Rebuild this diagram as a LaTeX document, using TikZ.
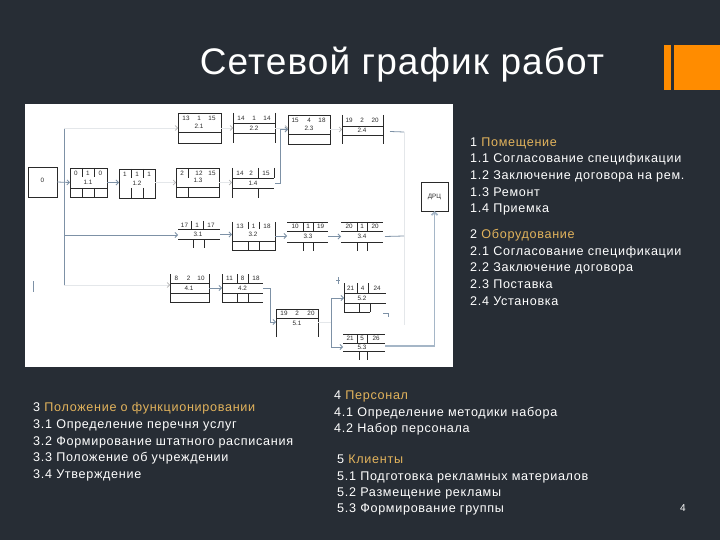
\documentclass[tikz,border=0pt]{standalone}
\usepackage{fontspec}
\setmainfont{Liberation Sans}
\newfontfamily\bodyfont[LetterSpace=5.5]{Liberation Sans}
\newfontfamily\titlefont[LetterSpace=3]{Liberation Sans}
\usetikzlibrary{arrows.meta,calc}
\definecolor{bg}{HTML}{272D35}
\definecolor{org}{HTML}{FF8C00}
\definecolor{gold}{HTML}{E2B35C}
\definecolor{conn}{HTML}{7D91A6}
\definecolor{faint}{HTML}{E4E7EA}
\definecolor{drc}{HTML}{A5B6C7}
\definecolor{ink}{HTML}{2A2A2A}
\newcounter{nn}
\newcommand\tnum[3]{\stepcounter{nn}\node[num] (n\arabic{nn}) at (#1,#2) {#3};}
\newcommand\trow[7]{\tnum{#2}{#1}{#3}\tnum{#4}{#1}{#5}\tnum{#6}{#1}{#7}}
\begin{document}
\begin{tikzpicture}[x=1pt,y=-1pt,
  box/.style={inner sep=0,outer sep=0,draw=none,anchor=north west},
  bl/.style={line width=0.7pt,ink},
  num/.style={font=\fontsize{6.3}{7}\selectfont,inner sep=0,text=ink},
  cn/.style={draw=conn,line width=0.8pt,-{Straight Barb[length=2.5pt,width=5pt]}},
  fc/.style={draw=faint,line width=0.6pt,-{Straight Barb[length=2.5pt,width=5pt,color=black!30]}},
  txt/.style={text=white,font=\bodyfont\fontsize{12.6}{15}\selectfont,anchor=base west,inner sep=0},
  gt/.style={text=gold}]
\useasboundingbox (0,0) rectangle (720,540);
\fill[bg] (0,0) rectangle (720,540);
% title and bars
\node[text=white,font=\titlefont\fontsize{37}{42}\selectfont,inner sep=0] (title) at (402,65) {Сетевой график работ};
\fill[org] (664,45) rectangle (671,90);
\fill[org] (674,45) rectangle (720,90);
% white panel
\fill[white] (25,104) rectangle (453,367);

% ---- boxes ----
% start
\node[box,minimum width=29,minimum height=30] (b0) at (28,167) {};
\draw[bl] (28,167) rectangle (57,197);
\node[num] (l0) at (42.5,180) {0};
% 1.1
\node[box,minimum width=37,minimum height=29] (b11) at (70,168) {};
\draw[bl] (70,168) rectangle (107,197) (82,168)--(82,177) (94,168)--(94,177)
  (70,188)--(107,188) (82,188)--(82,197) (94,188)--(94,197);
\trow{173}{76}{0}{88}{1}{100.5}{0}
\node[num] (l11) at (88,182.5) {1.1};
% 1.2
\node[box,minimum width=36,minimum height=29] (b12) at (119,169) {};
\draw[bl] (119,169) rectangle (155,198) (131,169)--(131,178) (143,169)--(143,178)
  (131,188)--(131,198) (143,188)--(143,198);
\trow{174}{125}{1}{137}{1}{149}{1}
\node[num] (l12) at (137,183.5) {1.2};
% 1.3
\node[box,minimum width=43,minimum height=29] (b13) at (176,168) {};
\draw[bl] (176,168) rectangle (219,197) (188,168)--(188,178)
  (176,187)--(219,187) (188,187)--(188,197);
\trow{173}{182}{2}{199}{12}{212}{15}
\node[num] (l13) at (198,180.5) {1.3};
% 1.4
\node[box,minimum width=42,minimum height=30] (b14) at (232,168) {};
\draw[bl] (232,168)--(232,198) (274,168)--(274,178) (258,168)--(258,178)
  (232,178)--(274,178) (232,188)--(274,188) (258,188)--(258,198);
\trow{173}{240}{14}{251}{2}{266}{15}
\node[num] (l14) at (253,183) {1.4};
% 2.1
\node[box,minimum width=43,minimum height=30] (b21) at (178,113) {};
\draw[bl] (178,113) rectangle (221,143) (178,132)--(221,132);
\trow{118}{186}{13}{199}{1}{212}{15}
\node[num] (l21) at (199,126.5) {2.1};
% 2.2
\node[box,minimum width=42,minimum height=30] (b22) at (233,113) {};
\draw[bl] (233,113)--(233,143) (275,113)--(275,143) (233,123)--(275,123) (233,133)--(275,133);
\trow{118}{241}{14}{254}{1}{267}{14}
\node[num] (l22) at (254,128) {2.2};
% 2.3
\node[box,minimum width=42,minimum height=29] (b23) at (288,115) {};
\draw[bl] (288,115) rectangle (330,144) (288,134)--(330,134);
\trow{120}{295}{15}{309}{4}{322}{18}
\node[num] (l23) at (309,128.5) {2.3};
% 2.4
\node[box,minimum width=41,minimum height=29] (b24) at (342,115) {};
\draw[bl] (342,115)--(342,144) (383,115)--(383,144) (342,126)--(383,126) (342,135)--(383,135);
\trow{120}{349}{19}{362}{2}{375}{20}
\node[num] (l24) at (362,130.5) {2.4};
% 3.1
\node[box,minimum width=42,minimum height=27] (b31) at (178,221) {};
\draw[bl] (191,221)--(191,229) (203,221)--(203,229) (178,229)--(220,229) (178,239)--(220,239)
  (193,239)--(193,248) (204,239)--(204,248);
\trow{225}{184.5}{17}{197}{1}{211}{17}
\node[num] (l31) at (198,234) {3.1};
% 3.2
\node[box,minimum width=43,minimum height=28] (b32) at (232,222) {};
\draw[bl] (232,222)--(232,250)--(275,250)--(275,222) (248,222)--(248,229) (259,222)--(259,229)
  (232,241)--(275,241) (248,241)--(248,250) (259,241)--(259,250);
\trow{226}{240}{13}{253.5}{1}{267}{18}
\node[num] (l32) at (253,234) {3.2};
% 3.3
\node[box,minimum width=41,minimum height=29] (b33) at (287,222) {};
\draw[bl] (287,222)--(328,222) (303,222)--(303,231) (313,222)--(313,231) (287,231)--(328,231)
  (287,242)--(328,242) (303,242)--(303,251) (313,242)--(313,251);
\trow{226.5}{295}{10}{308}{1}{320.5}{19}
\node[num] (l33) at (308,236.5) {3.3};
% 3.4
\node[box,minimum width=42,minimum height=29] (b34) at (341,222) {};
\draw[bl] (341,222)--(383,222) (357,222)--(357,231) (367,222)--(367,231) (341,231)--(383,231)
  (341,242)--(383,242) (357,242)--(357,251) (367,242)--(367,251);
\trow{226.5}{349}{20}{362}{1}{375}{20}
\node[num] (l34) at (362,236.5) {3.4};
% 4.1
\node[box,minimum width=39,minimum height=28] (b41) at (170,274) {};
\draw[bl] (170,274)--(170,302)--(209,302)--(209,274) (170,283)--(209,283) (170,293)--(209,293);
\trow{278}{176.5}{8}{188.5}{2}{201}{10}
\node[num] (l41) at (189,288) {4.1};
% 4.2
\node[box,minimum width=41,minimum height=28] (b42) at (222,274) {};
\draw[bl] (222,274)--(222,302)--(263,302) (237,274)--(237,283) (248,274)--(248,283)
  (222,283)--(263,283) (222,293)--(263,293) (237,293)--(237,302) (248,293)--(248,302);
\trow{278}{229.5}{11}{242.5}{8}{256}{18}
\node[num] (l42) at (242.5,288) {4.2};
% 5.1
\node[box,minimum width=42,minimum height=28] (b51) at (276,309) {};
\draw[bl] (276,337)--(276,309)--(318,309)--(318,337) (276,318)--(318,318);
\trow{313.5}{284}{19}{297}{2}{311}{20}
\node[num] (l51) at (297,323) {5.1};
% 5.2
\node[box,minimum width=42,minimum height=29] (b52) at (344,283) {};
\draw[bl] (344,283)--(344,312)--(370,312) (357,283)--(357,293) (368,283)--(368,293)
  (344,293)--(386,293) (344,303)--(386,303) (359,303)--(359,312) (370,303)--(370,312);
\trow{288}{350.5}{21}{362.5}{4}{377}{24}
\node[num] (l52) at (362,298) {5.2};
\draw[conn,line width=0.6pt] (383,313)--(388,313)--(388,317);
% 5.3
\node[box,minimum width=42,minimum height=26] (b53) at (343,334) {};
\draw[bl] (343,334)--(385,334) (357,334)--(357,343) (367,334)--(367,343) (343,343)--(385,343)
  (343,351)--(385,351) (359,351)--(359,360) (367,351)--(367,360);
\trow{338.5}{350}{21}{362}{5}{376}{26}
\node[num] (l53) at (362,347) {5.3};
% DRC
\node[box,draw=ink,line width=0.7pt,minimum width=27,minimum height=29] (drc) at (421,182) {};
\node[num] (ldrc) at (drc.center) {ДРЦ};

% ---- connectors ----
\coordinate (tTop) at (64,128);
\coordinate (tMid) at (64,235);
\coordinate (tBot) at (64,285);
\coordinate (rTop) at (404,132);
\coordinate (rMid) at (404,236);
\coordinate (rBot) at (404,325);
\coordinate (s5) at (331,322);
\coordinate (s5a) at (331,298);
\coordinate (s5b) at (331,347);
\draw[conn,line width=0.8pt] (tTop)--(tBot);
\draw[cn] (b0.east)--(b11.west);
\draw[fc] (tTop)--(b21.west|-tTop);
\draw[cn] (tMid)--(b31.west|-tMid);
\draw[fc] (tBot)--(b41.west|-tBot);
\draw[cn] (b11.east)--(b12.west|-b11.east);
\draw[fc] (b12.east|-b13.west)--(b13.west);
\draw[fc] (b13.east)--(b14.west|-b13.east);
\draw[fc] (b21.east)--(b22.west|-b21.east);
\draw[fc] (b22.east)--(b23.west|-b22.east);
\draw[cn] ($(b14.east)+(1,0)$)--++(5,0)|-(b23.west);
\draw[fc] (b23.east)--(b24.west|-b23.east);
\draw[conn,line width=0.8pt] ($(b24.east)+(7,2)$)--(rTop);
\draw[draw=faint,line width=0.8pt] (rTop)--(rBot);
\draw[cn] (b31.east)--(b32.west|-b31.east);
\draw[cn] (b32.east)--(b33.west|-b32.east);
\draw[cn] (b33.east)--(b34.west|-b33.east);
\draw[conn,line width=0.8pt] ($(b34.east)+(2,0)$)--(rMid);
\draw[cn] (b41.east)--(b42.west|-b41.east);
\draw[cn] (b42.east)--++(7,0)|-(b51.west|-s5);
\draw[draw=faint,line width=0.6pt] (b51.east|-s5)--(s5);
\draw[conn,line width=0.8pt] (s5a)--(s5b);
\draw[cn] (s5a)--(b52.west|-s5a);
\draw[cn] (s5b)--(b53.west|-s5b);
\draw[draw=drc,line width=1.6pt,-{Straight Barb[length=3pt,width=6pt]}] (b53.east|-346,346)-|(drc.south);
\draw[conn,line width=0.6pt] (33,281)--(33,292);
\draw[conn,line width=0.5pt] (338,277)--(338,284) (336,280)--(340,280);

% ---- texts ----
\node[txt] (a0) at (470,146.5) {1 \textcolor{gold}{Помещение}};
\node[txt] (a1) at (470,162.5) {1.1 Согласование спецификации};
\node[txt] (a2) at (470,179.5) {1.2 Заключение договора на рем.};
\node[txt] (a3) at (470,196.5) {1.3 Ремонт};
\node[txt] (a4) at (470,212.5) {1.4 Приемка};
\node[txt] (c0) at (470,238.5) {2 \textcolor{gold}{Оборудование}};
\node[txt] (c1) at (470,255.5) {2.1 Согласование спецификации};
\node[txt] (c2) at (470,271.5) {2.2 Заключение договора};
\node[txt] (c3) at (470,288.5) {2.3 Поставка};
\node[txt] (c4) at (470,305.5) {2.4 Установка};

\node[txt] (d0) at (33,411.5) {3 \textcolor{gold}{Положение о функционировании}};
\node[txt] (d1) at (33,428.2) {3.1 Определение перечня услуг};
\node[txt] (d2) at (33,445) {3.2 Формирование штатного расписания};
\node[txt] (d3) at (33,461.7) {3.3 Положение об учреждении};
\node[txt] (d4) at (33,478.5) {3.4 Утверждение};

\node[txt] (e0) at (334,399.5) {4 \textcolor{gold}{Персонал}};
\node[txt] (e1) at (334,416.5) {4.1 Определение методики набора};
\node[txt] (e2) at (334,432.5) {4.2 Набор персонала};
\node[txt] (f0) at (337,463.5) {5 \textcolor{gold}{Клиенты}};
\node[txt] (f1) at (337,480.5) {5.1 Подготовка рекламных материалов};
\node[txt] (f2) at (337,496.5) {5.2 Размещение рекламы};
\node[txt] (f3) at (337,512.5) {5.3 Формирование группы};
\node[text=white,font=\fontsize{10}{12}\selectfont,inner sep=0] (pg) at (683,508) {4};
\end{tikzpicture}
\end{document}
